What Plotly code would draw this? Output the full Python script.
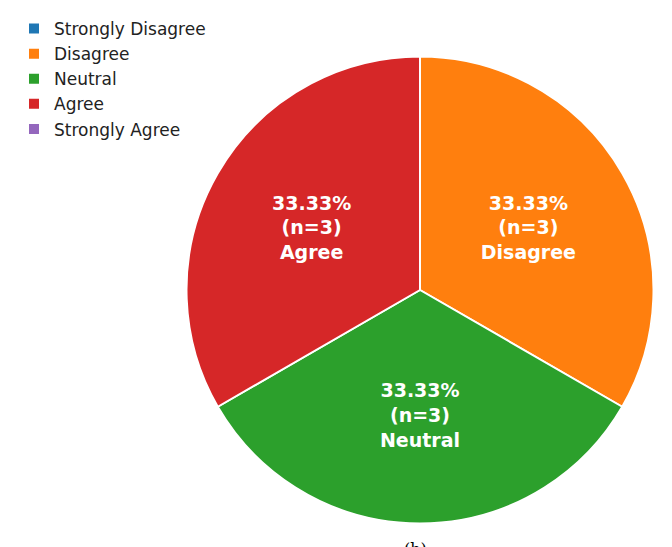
import plotly.graph_objects as go

# response categories and counts
categories = ["Strongly Disagree", "Disagree", "Neutral", "Agree", "Strongly Agree"]
counts = [0, 3, 3, 3, 0]
colors = ["#1f77b4", "#ff7f0e", "#2ca02c", "#d62728", "#9467bd"]

W, H = 672, 547

total = sum(counts)
texts = [
    f"{c / total * 100:.2f}%<br>(n={c})<br>{lab}" if c > 0 else ""
    for lab, c in zip(categories, counts)
]

# pixel box for the pie (tuned against the rendered output)
left, right, top, bottom = 178.5, 645.5, 48.5, 515.5

fig = go.Figure(
    go.Pie(
        labels=categories,
        values=counts,
        text=texts,
        textinfo="text",
        textposition="inside",
        insidetextorientation="horizontal",
        textfont=dict(family="DejaVu Sans", size=19, color="white", weight="bold"),
        marker=dict(colors=colors, line=dict(color="white", width=2)),
        sort=False,
        direction="clockwise",
        rotation=0,
        domain=dict(x=[left / W, right / W], y=[(H - bottom) / H, (H - top) / H]),
    )
)

fig.update_layout(
    width=W,
    height=H,
    margin=dict(l=0, r=0, t=0, b=0),
    paper_bgcolor="white",
    plot_bgcolor="white",
    font=dict(family="DejaVu Sans", color="#222222"),
    legend=dict(
        x=6 / W,
        y=1 - 3 / H,
        xanchor="left",
        yanchor="top",
        font=dict(size=17, family="DejaVu Sans"),
        tracegroupgap=0,
        itemwidth=30,
        bgcolor="rgba(255,255,255,0)",
    ),
    annotations=[
        dict(
            text="(b)",
            x=407 / W,
            y=-6 / H,
            xref="paper",
            yref="paper",
            xanchor="center",
            yanchor="bottom",
            showarrow=False,
            font=dict(size=16, family="DejaVu Serif", color="black"),
        )
    ],
)

fig.write_html("out.html")
